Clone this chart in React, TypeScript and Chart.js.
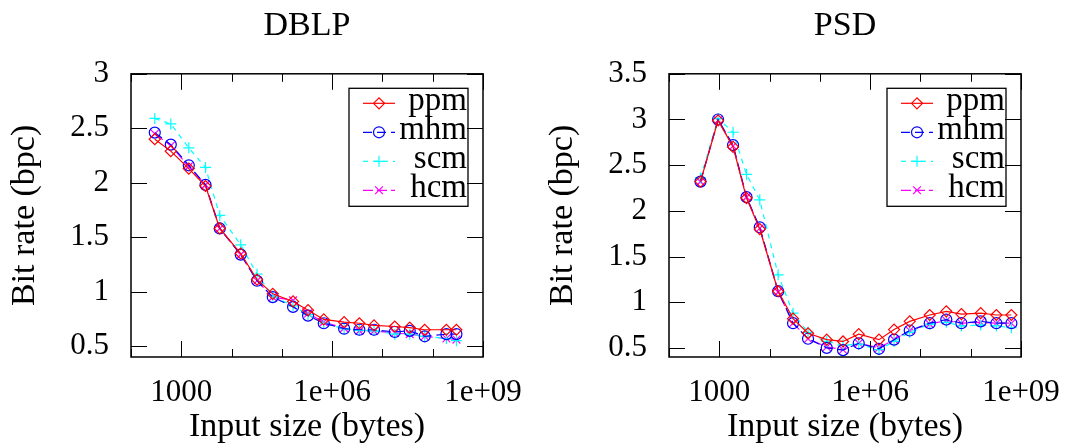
import React, { useEffect, useRef } from 'react';
import { Chart, registerables } from 'chart.js';
import { drawPoint } from 'chart.js/helpers';

Chart.register(...registerables);

// ---- series styling ----
const seriesNames = ['ppm', 'mhm', 'scm', 'hcm'];
const seriesColors = ['#ff0000', '#0000ff', '#00ffff', '#ff00ff'];
const seriesDash = [[], [9, 5], [5, 5], [10, 4]];
const seriesMarkers = ['rectRot', 'circle', 'cross', 'crossRot'];

// ---- DBLP panel ----
const dblpSizes = [297, 618, 1410, 3030, 5820, 15200, 32100, 65900, 167000, 332000, 681000,
  1730000, 3480000, 6810000, 17600000, 34900000, 69300000, 187000000, 296000000];
const dblpPpm = [2.40, 2.29, 2.13, 1.97, 1.58, 1.35, 1.11, 0.98, 0.91, 0.83, 0.745, 0.72, 0.71, 0.69, 0.68, 0.67, 0.65, 0.65, 0.65];
const dblpMhm = [2.46, 2.35, 2.16, 1.98, 1.58, 1.34, 1.10, 0.95, 0.86, 0.78, 0.71, 0.66, 0.65, 0.65, 0.63, 0.64, 0.59, 0.61, 0.61];
const dblpScm = [2.59, 2.54, 2.32, 2.14, 1.70, 1.43, 1.16, 0.96, 0.87, 0.79, 0.71, 0.66, 0.645, 0.64, 0.61, 0.61, 0.59, 0.57, 0.55];
const dblpHcm = [2.45, 2.34, 2.15, 1.98, 1.58, 1.34, 1.10, 0.95, 0.92, 0.80, 0.72, 0.665, 0.64, 0.64, 0.62, 0.61, 0.59, 0.57, 0.56];
const dblpYTicks = [0.5, 1, 1.5, 2, 2.5, 3];

// ---- PSD panel ----
const psdSizes = [423, 946, 1880, 3480, 6380, 14800, 29300, 58200, 137000, 289000, 593000,
  1500000, 2990000, 6120000, 15300000, 32700000, 65300000, 158000000, 324000000, 644000000];
const psdPpm = [2.32, 2.99, 2.70, 2.14, 1.80, 1.12, 0.82, 0.66, 0.59, 0.57, 0.65, 0.59, 0.70, 0.79, 0.86, 0.90, 0.87, 0.88, 0.86, 0.86];
const psdMhm = [2.32, 3.00, 2.72, 2.15, 1.82, 1.12, 0.77, 0.60, 0.50, 0.475, 0.55, 0.49, 0.59, 0.69, 0.77, 0.81, 0.77, 0.79, 0.77, 0.77];
const psdScm = [2.36, 3.01, 2.86, 2.40, 2.12, 1.30, 0.88, 0.67, 0.57, 0.53, 0.54, 0.48, 0.57, 0.67, 0.76, 0.78, 0.74, 0.75, 0.74, 0.72];
const psdHcm = [2.32, 2.99, 2.71, 2.15, 1.81, 1.11, 0.77, 0.60, 0.51, 0.48, 0.55, 0.50, 0.59, 0.69, 0.76, 0.80, 0.77, 0.78, 0.77, 0.77];
const psdYTicks = [0.5, 1, 1.5, 2, 2.5, 3, 3.5];

// ---- x axis ticks ----
const xTickValues = [1e2, 1e3, 1e4, 1e5, 1e6, 1e7, 1e8, 1e9];
const xMajorValues = [1e3, 1e6, 1e9];
const xMajorLabels = ['1000', '1e+06', '1e+09'];

const FAMILY = '"Liberation Serif", "DejaVu Serif", serif';

const gnuplotPlugin = {
  id: 'gnuplotFrame',
  afterDraw(chart: any) {
    const { ctx, chartArea: a, scales } = chart;
    const xs = scales.x;
    const ys = scales.y;
    ctx.save();
    ctx.setLineDash([]);
    ctx.strokeStyle = '#000';
    ctx.lineWidth = 1;
    const seg = (x1: number, y1: number, x2: number, y2: number) => {
      ctx.beginPath();
      ctx.moveTo(x1, y1);
      ctx.lineTo(x2, y2);
      ctx.stroke();
    };
    for (const t of xs.ticks) {
      const px = Math.round(xs.getPixelForValue(t.value)) + 0.5;
      const len = xMajorValues.includes(t.value) ? 16 : 8;
      seg(px, a.bottom, px, a.bottom - len);
      seg(px, a.top, px, a.top + len);
    }
    for (const t of ys.ticks) {
      const py = Math.round(ys.getPixelForValue(t.value)) + 0.5;
      seg(a.left, py, a.left + 16, py);
      seg(a.right, py, a.right - 16, py);
    }
    ctx.lineWidth = 1.5;
    ctx.strokeRect(a.left, a.top, a.right - a.left, a.bottom - a.top);

    // legend box
    const bw = 119, bh = 118;
    const bRight = a.right - 15;
    const bLeft = bRight - bw;
    const bTop = a.top + 14.5;
    ctx.lineWidth = 1.3;
    ctx.strokeRect(bLeft, bTop, bw, bh);
    chart.data.datasets.forEach((ds: any, i: number) => {
      const ry = bTop + 15 + i * 29;
      ctx.save();
      ctx.strokeStyle = ds.borderColor;
      ctx.lineWidth = ds.borderWidth;
      ctx.setLineDash(ds.borderDash || []);
      seg(bLeft + 14, ry, bLeft + 46, ry);
      ctx.setLineDash([]);
      ctx.fillStyle = 'rgba(0,0,0,0)';
      drawPoint(ctx, { pointStyle: ds.pointStyle, radius: ds.pointRadius, borderWidth: ds.pointBorderWidth, rotation: 0 }, bLeft + 30, ry);
      ctx.restore();
      ctx.fillStyle = '#000';
      ctx.font = `33px ${FAMILY}`;
      ctx.textAlign = 'right';
      ctx.textBaseline = 'alphabetic';
      ctx.fillText(ds.label, bRight - 1, ry + 7);
    });
    ctx.restore();
  },
};

type PanelProps = {
  left: number;
  title: string;
  sizes: number[];
  series: number[][];
  yMin: number;
  yMax: number;
  yTicks: number[];
};

function Panel({ left, title, sizes, series, yMin, yMax, yTicks }: PanelProps) {
  const ref = useRef<HTMLCanvasElement | null>(null);
  useEffect(() => {
    let chart: Chart | null = null;
    let cancelled = false;
    const build = () => {
      if (cancelled || !ref.current) return;
      const datasets = series.map((vals, i) => ({
        label: seriesNames[i],
        data: sizes.map((x, j) => ({ x, y: vals[j] })),
        borderColor: seriesColors[i],
        backgroundColor: 'rgba(0,0,0,0)',
        borderWidth: 1.2,
        borderDash: seriesDash[i],
        pointStyle: seriesMarkers[i],
        pointRadius: 5.5,
        pointBorderWidth: 1.2,
        pointBorderColor: seriesColors[i],
        pointBackgroundColor: 'rgba(0,0,0,0)',
        tension: 0,
        fill: false,
      }));
      const tickFont = { family: FAMILY, size: 31 };
      const titleFont = { family: FAMILY, size: 34 };
      chart = new Chart(ref.current, {
        type: 'line',
        data: { datasets },
        plugins: [gnuplotPlugin],
        options: {
          responsive: false,
          animation: false,
          devicePixelRatio: 1,
          layout: { padding: { left: 0, right: 50, top: 0, bottom: 0 } },
          plugins: {
            legend: { display: false },
            tooltip: { enabled: false },
            title: {
              display: true,
              text: title,
              color: '#000',
              fullSize: false,
              font: { family: FAMILY, size: 34, weight: 'normal' },
              padding: { top: 6, bottom: 27 },
            },
          },
          scales: {
            x: {
              type: 'logarithmic',
              min: 100,
              max: 1e9,
              afterBuildTicks: (s: any) => {
                s.ticks = xTickValues.map((v) => ({ value: v }));
              },
              afterFit: (s: any) => {
                s.height = 90;
              },
              grid: { display: false },
              border: { display: false },
              ticks: {
                autoSkip: false,
                maxRotation: 0,
                minRotation: 0,
                padding: 9,
                color: '#000',
                font: tickFont,
                callback: (v: any) => {
                  const k = xMajorValues.indexOf(Number(v));
                  return k >= 0 ? xMajorLabels[k] : '';
                },
              },
              title: {
                display: true,
                text: 'Input size (bytes)',
                color: '#000',
                font: titleFont,
                padding: { top: 0, bottom: 0 },
              },
            },
            y: {
              type: 'linear',
              min: yMin,
              max: yMax,
              afterBuildTicks: (s: any) => {
                s.ticks = yTicks.map((v) => ({ value: v }));
              },
              afterFit: (s: any) => {
                s.width = 131;
              },
              grid: { display: false },
              border: { display: false },
              ticks: {
                padding: 14,
                color: '#000',
                font: tickFont,
                callback: (v: any) => String(v),
              },
              title: {
                display: true,
                text: 'Bit rate (bpc)',
                color: '#000',
                font: titleFont,
                padding: { top: 5, bottom: 0 },
              },
            },
          },
        } as any,
      });
    };
    const fontsApi: any = (document as any).fonts;
    if (fontsApi && fontsApi.load) {
      Promise.all([
        fontsApi.load('31px "Liberation Serif"'),
        fontsApi.load('34px "Liberation Serif"'),
      ]).then(build, build);
    } else {
      build();
    }
    return () => {
      cancelled = true;
      if (chart) chart.destroy();
    };
  }, []);
  return (
    <canvas
      ref={ref}
      width={533}
      height={447}
      style={{ position: 'absolute', left, top: 0, width: 533, height: 447 }}
    />
  );
}

export default function App() {
  return (
    <div style={{ position: 'fixed', left: 0, top: 0, width: 1071, height: 447, background: '#fff' }}>
      <span style={{ position: 'absolute', left: -9999, top: 0, fontFamily: FAMILY, fontSize: 30 }}>ppm 1000</span>
      <Panel left={0} title="DBLP" sizes={dblpSizes} series={[dblpPpm, dblpMhm, dblpScm, dblpHcm]} yMin={0.4} yMax={3} yTicks={dblpYTicks} />
      <Panel left={538} title="PSD" sizes={psdSizes} series={[psdPpm, psdMhm, psdScm, psdHcm]} yMin={0.4} yMax={3.5} yTicks={psdYTicks} />
    </div>
  );
}
